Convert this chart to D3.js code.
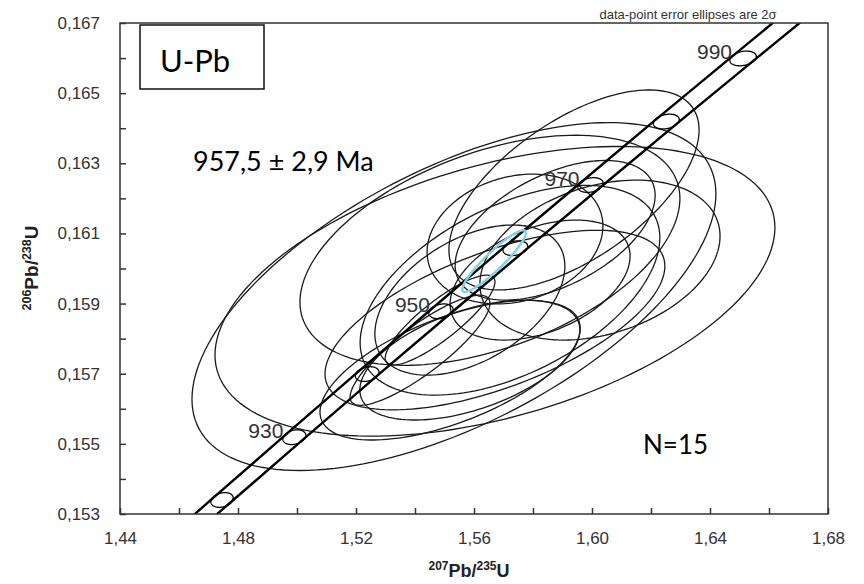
<html>
<head>
  <script src="https://d3js.org/d3.v7.min.js"></script>
  <style>
    body { margin: 0; background: white; }
  </style>
</head>
<body>
  <svg id="chart" width="864" height="584" style="background: white;"></svg>
  <script>
    // concordia age markers (Ma) with 207Pb/235U and 206Pb/238U
    const ages = [910, 920, 930, 940, 950, 960, 970, 980, 990, 1000];
    const concX = [1.4503, 1.4746, 1.4991, 1.5238, 1.5488, 1.5740, 1.5995, 1.6252, 1.6512, 1.6774];
    const concY = [0.15161, 0.15340, 0.15519, 0.15699, 0.15878, 0.16058, 0.16238, 0.16419, 0.16599, 0.16780];
    // half width of the decay-constant band, in 207Pb/235U
    const bandHalf = [0.0037, 0.0038, 0.0039, 0.0040, 0.0041, 0.0042, 0.0043, 0.0044, 0.0045, 0.0046];
    const labelledAges = [930, 950, 970, 990];

    // data-point ellipses: centre, 2 sigma errors, error correlation
    const ptX   = [1.5532, 1.5671, 1.5654, 1.5722, 1.5739, 1.5671, 1.5939, 1.5519, 1.5586, 1.5417, 1.5485, 1.5824, 1.5875, 1.6027, 1.5586];
    const ptY   = [0.15920, 0.15935, 0.16052, 0.15938, 0.16084, 0.15853, 0.16224, 0.15710, 0.15739, 0.15767, 0.15853, 0.15967, 0.16109, 0.16024, 0.15910];
    const ptErrX = [0.0888, 0.0949, 0.0644, 0.0508, 0.0298, 0.0576, 0.0424, 0.0441, 0.0373, 0.0237, 0.0186, 0.0305, 0.0339, 0.0407, 0.0322];
    const ptErrY = [0.00496, 0.00413, 0.00328, 0.00299, 0.00185, 0.00256, 0.00285, 0.00199, 0.00171, 0.00157, 0.00128, 0.00171, 0.00199, 0.00228, 0.00214];
    const ptRho = [0.59, 0.44, 0.45, 0.5, 0.2, 0.6, 0.6, 0.6, 0.5, 0.85, 0.85, 0.4, 0.5, 0.3, 0.45];

    // concordia age ellipse
    const concordiaEll = { x: 1.5668, y: 0.16021, errX: 0.0108, errY: 0.00088, rho: 0.92 };

    const xTicks = [1.44, 1.46, 1.48, 1.50, 1.52, 1.54, 1.56, 1.58, 1.60, 1.62, 1.64, 1.66, 1.68];
    const xTickLabels = ["1,44", "", "1,48", "", "1,52", "", "1,56", "", "1,60", "", "1,64", "", "1,68"];
    const yTicks = [0.153, 0.154, 0.155, 0.156, 0.157, 0.158, 0.159, 0.160, 0.161, 0.162, 0.163, 0.164, 0.165, 0.166, 0.167];
    const yTickLabels = ["0,153", "", "0,155", "", "0,157", "", "0,159", "", "0,161", "", "0,163", "", "0,165", "", "0,167"];

    const svg = d3.select("svg#chart");
    const plot = { left: 120, right: 828, top: 23, bottom: 514 };

    const x = d3.scaleLinear().domain([1.44, 1.68]).range([plot.left, plot.right]);
    const y = d3.scaleLinear().domain([0.153, 0.167]).range([plot.bottom, plot.top]);

    svg.append("clipPath").attr("id", "plotclip")
      .append("rect")
      .attr("x", plot.left).attr("y", plot.top)
      .attr("width", plot.right - plot.left).attr("height", plot.bottom - plot.top);

    const g = svg.append("g").attr("clip-path", "url(#plotclip)");

    function ellipsePoints(cx, cy, ex, ey, rho) {
      const pts = [];
      const s = Math.sqrt(1 - rho * rho);
      for (let i = 0; i < 160; i++) {
        const t = i / 160 * Math.PI * 2;
        pts.push([x(cx + ex * Math.cos(t)), y(cy + ey * (rho * Math.cos(t) + s * Math.sin(t)))]);
      }
      return pts;
    }
    const closed = d3.line().curve(d3.curveLinearClosed);

    // data ellipses
    ptX.forEach((d, i) => {
      g.append("path")
        .attr("d", closed(ellipsePoints(ptX[i], ptY[i], ptErrX[i], ptErrY[i], ptRho[i])))
        .attr("fill", "none")
        .attr("stroke", "#1a1a1a")
        .attr("stroke-width", 1.3);
    });

    // concordia band
    const lineGen = d3.line();
    g.append("path")
      .attr("d", lineGen(ages.map((a, i) => [x(concX[i] - bandHalf[i]), y(concY[i])])))
      .attr("fill", "none").attr("stroke", "#000").attr("stroke-width", 2.4);
    g.append("path")
      .attr("d", lineGen(ages.map((a, i) => [x(concX[i] + bandHalf[i]), y(concY[i])])))
      .attr("fill", "none").attr("stroke", "#000").attr("stroke-width", 2.4);

    // age markers
    ages.forEach((a, i) => {
      g.append("path")
        .attr("d", closed(ellipsePoints(concX[i], concY[i], bandHalf[i], 0.00021, 0.25)))
        .attr("fill", "none")
        .attr("stroke", "#000")
        .attr("stroke-width", 1.3);
      if (labelledAges.includes(a)) {
        g.append("text")
          .attr("x", x(concX[i]) - 11)
          .attr("y", y(concY[i]) + 1)
          .attr("text-anchor", "end")
          .style("font-family", "'Liberation Sans', Arial, sans-serif")
          .style("font-size", "21px")
          .style("fill", "#333")
          .text(a);
      }
    });

    // concordia age ellipse (cyan)
    g.append("path")
      .attr("d", closed(ellipsePoints(concordiaEll.x, concordiaEll.y, concordiaEll.errX, concordiaEll.errY, concordiaEll.rho)))
      .attr("fill", "none")
      .attr("stroke", "#7dd3ec")
      .attr("stroke-width", 2.4);

    // frame
    svg.append("rect")
      .attr("x", plot.left).attr("y", plot.top)
      .attr("width", plot.right - plot.left).attr("height", plot.bottom - plot.top)
      .attr("fill", "none").attr("stroke", "#333").attr("stroke-width", 1.5);

    // axes
    const xAxis = d3.axisBottom(x).tickValues(xTicks)
      .tickFormat((d, i) => xTickLabels[i])
      .tickSizeInner(-6).tickSizeOuter(0).tickPadding(18);
    const yAxis = d3.axisLeft(y).tickValues(yTicks)
      .tickFormat((d, i) => yTickLabels[i])
      .tickSizeInner(-6).tickSizeOuter(0).tickPadding(20);

    const gx = svg.append("g").attr("transform", `translate(0,${plot.bottom})`).call(xAxis);
    const gy = svg.append("g").attr("transform", `translate(${plot.left},0)`).call(yAxis);
    [gx, gy].forEach(ax => {
      ax.select(".domain").remove();
      ax.selectAll("line").attr("stroke", "#333").attr("stroke-width", 1.5);
      ax.selectAll("text")
        .style("font-family", "'Liberation Sans', Arial, sans-serif")
        .style("font-size", "17px")
        .style("fill", "#333");
    });

    // axis titles
    const xTitle = svg.append("text")
      .attr("x", 469).attr("y", 577)
      .attr("text-anchor", "middle")
      .style("font-family", "'Liberation Sans', Arial, sans-serif")
      .style("font-weight", "bold")
      .style("font-size", "18px")
      .style("fill", "#222");
    xTitle.append("tspan").attr("dy", -7).style("font-size", "12px").text("207");
    xTitle.append("tspan").attr("dy", 7).text("Pb/");
    xTitle.append("tspan").attr("dy", -7).style("font-size", "12px").text("235");
    xTitle.append("tspan").attr("dy", 7).text("U");

    const yTitle = svg.append("text")
      .attr("transform", "translate(38,268) rotate(-90)")
      .attr("text-anchor", "middle")
      .style("font-family", "'Liberation Sans', Arial, sans-serif")
      .style("font-weight", "bold")
      .style("font-size", "19px")
      .style("fill", "#222");
    yTitle.append("tspan").attr("dy", -7).style("font-size", "12.5px").text("206");
    yTitle.append("tspan").attr("dy", 7).text("Pb/");
    yTitle.append("tspan").attr("dy", -7).style("font-size", "12.5px").text("238");
    yTitle.append("tspan").attr("dy", 7).text("U");

    // note above plot
    svg.append("text")
      .attr("x", 688).attr("y", 19)
      .attr("text-anchor", "middle")
      .style("font-family", "'Liberation Sans', Arial, sans-serif")
      .style("font-size", "13px")
      .style("fill", "#333")
      .text("data-point error ellipses are 2σ");

    // annotations
    svg.append("rect")
      .attr("x", 140).attr("y", 25).attr("width", 124).attr("height", 64)
      .attr("fill", "white").attr("stroke", "#111").attr("stroke-width", 1.5);
    svg.append("text")
      .attr("x", 160).attr("y", 72)
      .style("font-family", "Lato, sans-serif")
      .style("font-size", "31px")
      .style("fill", "#000")
      .text("U-Pb");
    svg.append("text")
      .attr("x", 193).attr("y", 171)
      .style("font-family", "Lato, sans-serif")
      .style("font-size", "27px")
      .style("fill", "#000")
      .text("957,5 ± 2,9 Ma");
    svg.append("text")
      .attr("x", 643).attr("y", 454)
      .style("font-family", "Lato, sans-serif")
      .style("font-size", "26px")
      .style("fill", "#000")
      .text("N=15");
  </script>
</body>
</html>
